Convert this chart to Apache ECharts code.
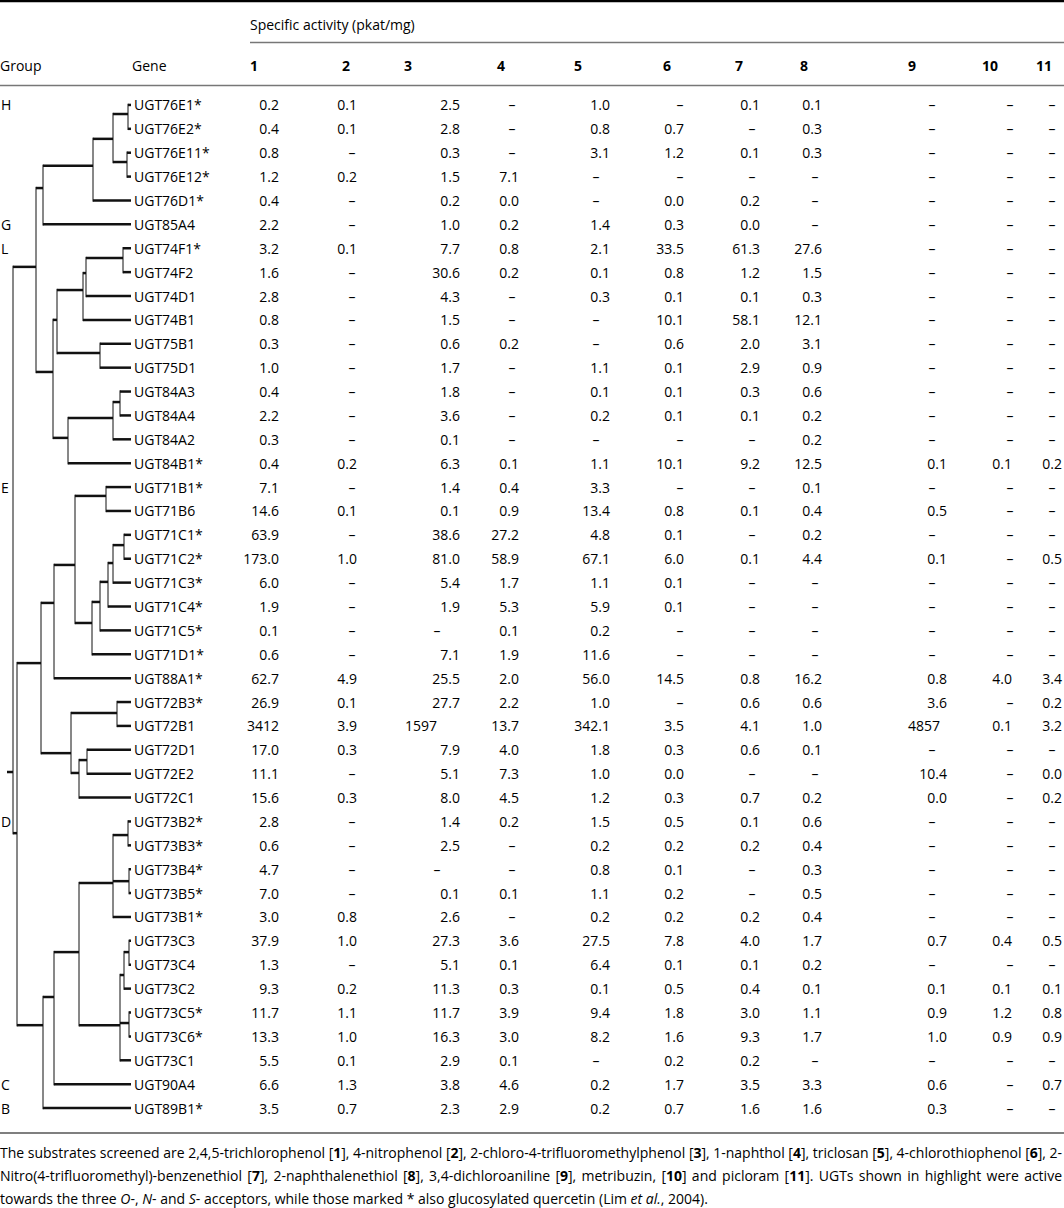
<!DOCTYPE html>
<html><head><meta charset="utf-8">
<script src="https://cdn.jsdelivr.net/npm/echarts@6/dist/echarts.min.js"></script>
<style>html,body{margin:0;padding:0;background:#fff}#c{width:1064px;height:1208px}</style>
</head><body><div id="c"></div>
<script>
const N = null;
const genes = ['UGT76E1*','UGT76E2*','UGT76E11*','UGT76E12*','UGT76D1*','UGT85A4','UGT74F1*','UGT74F2','UGT74D1','UGT74B1','UGT75B1','UGT75D1','UGT84A3','UGT84A4','UGT84A2','UGT84B1*','UGT71B1*','UGT71B6','UGT71C1*','UGT71C2*','UGT71C3*','UGT71C4*','UGT71C5*','UGT71D1*','UGT88A1*','UGT72B3*','UGT72B1','UGT72D1','UGT72E2','UGT72C1','UGT73B2*','UGT73B3*','UGT73B4*','UGT73B5*','UGT73B1*','UGT73C3','UGT73C4','UGT73C2','UGT73C5*','UGT73C6*','UGT73C1','UGT90A4','UGT89B1*'];
const groupNames = ['H','G','L','E','D','C','B'];
const groupRows  = [0,5,6,16,30,41,42];
const colHeaders = ['1','2','3','4','5','6','7','8','9','10','11'];
const headerTitle = 'Specific activity (pkat/mg)';

const act1 = [0.2,0.4,0.8,1.2,0.4,2.2, 3.2,1.6,2.8,0.8,0.3,1.0, 0.4,2.2,0.3,0.4, 7.1,14.6,63.9,173.0,6.0,1.9,0.1,0.6, 62.7, 26.9,3412,17.0,11.1,15.6, 2.8,0.6,4.7,7.0,3.0, 37.9,1.3,9.3,11.7,13.3,5.5, 6.6,3.5];
const act2 = [0.1,0.1,N,0.2,N,N, 0.1,N,N,N,N,N, N,N,N,0.2, N,0.1,N,1.0,N,N,N,N, 4.9, 0.1,3.9,0.3,N,0.3, N,N,N,N,0.8, 1.0,N,0.2,1.1,1.0,0.1, 1.3,0.7];
const act3 = [2.5,2.8,0.3,1.5,0.2,1.0, 7.7,30.6,4.3,1.5,0.6,1.7, 1.8,3.6,0.1,6.3, 1.4,0.1,38.6,81.0,5.4,1.9,N,7.1, 25.5, 27.7,1597,7.9,5.1,8.0, 1.4,2.5,N,0.1,2.6, 27.3,5.1,11.3,11.7,16.3,2.9, 3.8,2.3];
const act4 = [N,N,N,7.1,0.0,0.2, 0.8,0.2,N,N,0.2,N, N,N,N,0.1, 0.4,0.9,27.2,58.9,1.7,5.3,0.1,1.9, 2.0, 2.2,13.7,4.0,7.3,4.5, 0.2,N,N,0.1,N, 3.6,0.1,0.3,3.9,3.0,0.1, 4.6,2.9];
const act5 = [1.0,0.8,3.1,N,N,1.4, 2.1,0.1,0.3,N,N,1.1, 0.1,0.2,N,1.1, 3.3,13.4,4.8,67.1,1.1,5.9,0.2,11.6, 56.0, 1.0,342.1,1.8,1.0,1.2, 1.5,0.2,0.8,1.1,0.2, 27.5,6.4,0.1,9.4,8.2,N, 0.2,0.2];
const act6 = [N,0.7,1.2,N,0.0,0.3, 33.5,0.8,0.1,10.1,0.6,0.1, 0.1,0.1,N,10.1, N,0.8,0.1,6.0,0.1,0.1,N,N, 14.5, N,3.5,0.3,0.0,0.3, 0.5,0.2,0.1,0.2,0.2, 7.8,0.1,0.5,1.8,1.6,0.2, 1.7,0.7];
const act7 = [0.1,N,0.1,N,0.2,0.0, 61.3,1.2,0.1,58.1,2.0,2.9, 0.3,0.1,N,9.2, N,0.1,N,0.1,N,N,N,N, 0.8, 0.6,4.1,0.6,N,0.7, 0.1,0.2,N,N,0.2, 4.0,0.1,0.4,3.0,9.3,0.2, 3.5,1.6];
const act8 = [0.1,0.3,0.3,N,N,N, 27.6,1.5,0.3,12.1,3.1,0.9, 0.6,0.2,0.2,12.5, 0.1,0.4,0.2,4.4,N,N,N,N, 16.2, 0.6,1.0,0.1,N,0.2, 0.6,0.4,0.3,0.5,0.4, 1.7,0.2,0.1,1.1,1.7,N, 3.3,1.6];
const act9 = [N,N,N,N,N,N, N,N,N,N,N,N, N,N,N,0.1, N,0.5,N,0.1,N,N,N,N, 0.8, 3.6,4857,N,10.4,0.0, N,N,N,N,N, 0.7,N,0.1,0.9,1.0,N, 0.6,0.3];
const act10 = [N,N,N,N,N,N, N,N,N,N,N,N, N,N,N,0.1, N,N,N,N,N,N,N,N, 4.0, N,0.1,N,N,N, N,N,N,N,N, 0.4,N,0.1,1.2,0.9,N, N,N];
const act11 = [N,N,N,N,N,N, N,N,N,N,N,N, N,N,N,0.2, N,N,N,0.5,N,N,N,N, 3.4, 0.2,3.2,N,0.0,0.2, N,N,N,N,N, 0.5,N,0.1,0.8,0.9,N, 0.7,N];
const activity = [act1,act2,act3,act4,act5,act6,act7,act8,act9,act10,act11];

// dendrogram: node = {x: branch position, r: drawn row position, c: children}; leaves are gene indices
const tree = {x:13, r:27.93, c:[
  {x:36, r:6.78, c:[
    {x:43, r:3.48, c:[
      {x:93, r:2.55, c:[
        {x:113, r:1.42, c:[{x:128, r:0.38, c:[0,1]}, {x:127, r:2.39, c:[2,3]}]},
        4]},
      5]},
    {x:53, r:11.18, c:[
      {x:57, r:9.0, c:[
        {x:83, r:7.75, c:[{x:86, r:7.04, c:[{x:123, r:6.41, c:[6,7]}, 8]}, 9]},
        {x:100, r:10.39, c:[10,11]}]},
      {x:68, r:13.94, c:[{x:113, r:13.11, c:[{x:120, r:12.44, c:[12,13]}, 14]}, 15]}]}]},
  {x:17, r:30.49, c:[
    {x:41, r:23.37, c:[
      {x:54, r:20.85, c:[
        {x:75, r:19.26, c:[
          {x:106, r:16.37, c:[16,17]},
          {x:92, r:21.69, c:[{x:100, r:20.81, c:[{x:108, r:19.97, c:[{x:113, r:19.18, c:[{x:124, r:18.43, c:[18,19]}, 20]}, 21]}, 22]}, 23]}]},
        24]},
      {x:71, r:27.14, c:[{x:117, r:25.46, c:[25,26]}, {x:79, r:27.97, c:[{x:87, r:27.43, c:[27,28]}, 29]}]}]},
    {x:43, r:38.53, c:[
      {x:54, r:37.35, c:[
        {x:79, r:35.47, c:[
          {x:113, r:32.58, c:[{x:128, r:30.57, c:[30,31]}, {x:129, r:32.5, c:[32,33]}, 34]},
          {x:120, r:38.53, c:[{x:124, r:36.43, c:[{x:129, r:35.47, c:[35,36]}, 37]}, {x:129, r:38.44, c:[38,39]}, 40]}]},
        41]},
      42]}]}]};

// ---- layout (style) ----
const FONT = '"Open Sans"';
const FS = 14, FOOT_FS = 14;
const LEAF_X = 131, ROOT_STUB = 7, GENE_X = 134, GROUP_X = 1;
const numRight = [279, 357, 460, 519, 610, 684, 760, 822, 947, 1012, 1062];
const intRight = [279, 357, 437, 519, 610, 684, 760, 822, 940, 1012, 1062];
const dashX    = [265, 352, 437, 512, 596, 680, 752, 815, 932, 1010, 1052];
const headX    = [250, 342, 404, 497, 574, 663, 735, 800, 908, 982, 1036];

// build tree segments
const segs = [];
function nodeRow(n){ return typeof n === 'number' ? n : n.r; }
function walk(n, px){
  if (typeof n === 'number'){ segs.push([px, n, LEAF_X, n, 0]); return; }
  segs.push([px, n.r, n.x, n.r, 0]);
  segs.push([n.x, nodeRow(n.c[0]), n.x, nodeRow(n.c[n.c.length-1]), 1]);
  n.c.forEach(ch => walk(ch, n.x));
}
walk(tree, ROOT_STUB);

function fmt(v){ return v >= 1000 ? String(v) : v.toFixed(1); }
const cells = [];
activity.forEach((col, ci) => col.forEach((v, ri) => {
  if (v === null) cells.push({c:ci, r:ri, s:'\u2013', x:dashX[ci], a:'center'});
  else if (v >= 1000) cells.push({c:ci, r:ri, s:fmt(v), x:intRight[ci], a:'right'});
  else cells.push({c:ci, r:ri, s:fmt(v), x:numRight[ci], a:'right'});
}));

function txt(x, y, s, align, extra){
  return Object.assign({type:'text', x:x, y:y, style:{text:s, font: FS+'px '+FONT, fill:'#000', align:align, textAlign:align, verticalAlign:'middle', textVerticalAlign:'middle'}}, extra||{});
}

// footnote with justification (** bold **, __ italic __)
const footLines = [
  {just:true, t:'The substrates screened are 2,4,5-trichlorophenol [**1**], 4-nitrophenol [**2**], 2-chloro-4-trifluoromethylphenol [**3**], 1-naphthol [**4**], triclosan [**5**], 4-chlorothiophenol [**6**], 2-'},
  {just:true, t:'Nitro(4-trifluoromethyl)-benzenethiol [**7**], 2-naphthalenethiol [**8**], 3,4-dichloroaniline [**9**], metribuzin, [**10**] and picloram [**11**]. UGTs shown in highlight were active'},
  {just:false, t:'towards the three __O__-, __N__- and __S__- acceptors, while those marked * also glucosylated quercetin (Lim __et al.__, 2004).'}
];
const footY = [1152, 1175, 1198];
const mctx = document.createElement('canvas').getContext('2d');
function segsOf(word){
  const out = []; const re = /(\*\*[^*]+\*\*|__[^_]+__)/g; let last = 0, m;
  while ((m = re.exec(word))){
    if (m.index > last) out.push({s:word.slice(last, m.index), k:''});
    out.push({s:m[0].slice(2,-2), k: m[0][0]==='*' ? 'b' : 'i'});
    last = m.index + m[0].length;
  }
  if (last < word.length) out.push({s:word.slice(last), k:''});
  return out;
}
function splitWords(t){
  const prot = t.replace(/(\*\*[^*]+\*\*|__[^_]+__)/g, s => s.replace(/ /g, '\u0001'));
  return prot.split(' ').map(w => w.replace(/\u0001/g, ' '));
}
function segFont(k){ return (k==='i'?'italic ':'') + (k==='b'?'bold ':'') + FOOT_FS+'px '+FONT; }
function width(sg){ return sg.reduce((w,p)=>{ mctx.font = segFont(p.k); return w + mctx.measureText(p.s).width; }, 0); }
const footEls = [];
footLines.forEach((ln, li) => {
  const words = splitWords(ln.t).map(segsOf);
  const ws = words.map(width);
  mctx.font = segFont('');
  const sp = mctx.measureText(' ').width;
  const total = ws.reduce((a,b)=>a+b,0);
  const gap = ln.just ? Math.max(sp * 0.6, (1062 - total) / (words.length - 1)) : sp;
  let x = 0;
  words.forEach((sg, wi) => {
    const rt = sg.map(p => p.k ? '{'+p.k+'|'+p.s+'}' : p.s).join('');
    footEls.push({type:'text', x:x, y:footY[li], style:{text:rt, font: FOOT_FS+'px '+FONT, fill:'#000', align:'left', textAlign:'left', verticalAlign:'middle', textVerticalAlign:'middle',
      rich:{b:{fontWeight:'bold', fontSize:FOOT_FS, fontFamily:FONT, fill:'#000', color:'#000'}, i:{fontStyle:'italic', fontSize:FOOT_FS, fontFamily:FONT, fill:'#000', color:'#000'}}}});
    x += ws[wi] + gap;
  });
});

const chart = echarts.init(document.getElementById('c'), null, {renderer:'svg'});
const graphics = [
  {type:'line', shape:{x1:0,y1:1,x2:1064,y2:1}, style:{stroke:'#000', lineWidth:2.5}},
  {type:'line', shape:{x1:250,y1:42.5,x2:1064,y2:42.5}, style:{stroke:'#777', lineWidth:1.5}},
  {type:'line', shape:{x1:0,y1:85.5,x2:1064,y2:85.5}, style:{stroke:'#777', lineWidth:1.5}},
  {type:'line', shape:{x1:0,y1:1133,x2:1064,y2:1133}, style:{stroke:'#555', lineWidth:1.5}},
  txt(250, 24, headerTitle, 'left'),
  txt(0, 65, 'Group', 'left'),
  txt(132, 65, 'Gene', 'left')
].concat(colHeaders.map((h,i)=>{ const t = txt(headX[i], 65, h, 'left'); t.style.font = 'bold '+FS+'px '+FONT; return t; }))
 .concat(footEls);

chart.setOption({
  animation:false,
  grid:{left:0, right:0, top:93, height:1027},
  xAxis:{type:'value', min:0, max:1064, show:false},
  yAxis:{type:'value', min:-0.5, max:42.5, inverse:true, show:false},
  graphic: graphics,
  series:[
    {type:'custom', name:'tree', data:segs, renderItem:(p, api)=>{
      const a = api.coord([api.value(0), api.value(1)]);
      const b = api.coord([api.value(2), api.value(3)]);
      const v = api.value(4) === 1;
      if (v){ a[1] -= 1.2; b[1] += 1.2; }
      return {type:'line', shape:{x1:a[0], y1:a[1], x2:b[0], y2:b[1]}, style:{stroke:'#111', lineWidth: v ? 1 : 2.5}};
    }},
    {type:'custom', name:'genes', data:genes.map((g,i)=>[GENE_X, i]), renderItem:(p, api)=>{
      const a = api.coord([api.value(0), api.value(1)]);
      return txt(a[0], a[1], genes[p.dataIndex], 'left');
    }},
    {type:'custom', name:'groups', data:groupRows.map(r=>[GROUP_X, r]), renderItem:(p, api)=>{
      const a = api.coord([api.value(0), api.value(1)]);
      return txt(a[0], a[1], groupNames[p.dataIndex], 'left');
    }},
    {type:'custom', name:'values', data:cells.map(c=>[c.x, c.r]), renderItem:(p, api)=>{
      const a = api.coord([api.value(0), api.value(1)]);
      const c = cells[p.dataIndex];
      return txt(a[0], a[1], c.s, c.a);
    }}
  ]
});
</script></body></html>
